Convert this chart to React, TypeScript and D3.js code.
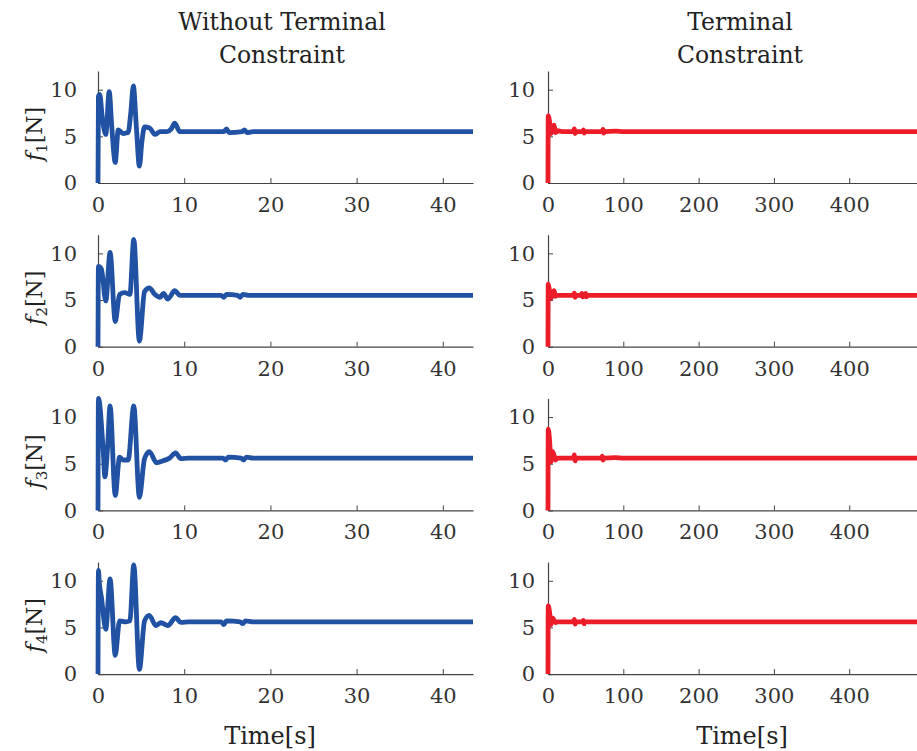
import React, { useEffect, useRef } from "react";
import * as d3 from "d3";

// left column: without terminal constraint (time in s, force in N)
const f1LeftT = [0, 0.05, 0.2, 0.5, 0.9, 1.3, 1.6, 2.0, 2.35, 2.9, 3.5, 3.8, 4.1, 4.45, 4.8, 5.1, 5.4, 6.0, 6.6, 7.2, 8.0, 8.5, 8.9, 9.5, 10.5, 14.6, 14.9, 15.2, 16.7, 17.0, 17.3, 18, 44];
const f1LeftV = [0, 9.3, 9.5, 7.0, 5.2, 9.8, 6.0, 2.2, 5.7, 5.3, 5.4, 7.5, 10.4, 6.0, 1.8, 4.5, 6.0, 5.9, 5.2, 5.5, 5.5, 5.8, 6.4, 5.5, 5.5, 5.5, 5.8, 5.4, 5.5, 5.7, 5.4, 5.5, 5.5];

const f2LeftT = [0, 0.05, 0.4, 0.9, 1.4, 2.0, 2.5, 3.1, 3.7, 4.15, 4.8, 5.4, 5.95, 6.6, 7.2, 7.6, 8.1, 8.9, 9.5, 10.5, 14.3, 14.6, 14.9, 16.2, 16.5, 16.8, 17.5, 44];
const f2LeftV = [0, 8.6, 8.3, 4.9, 10.1, 2.7, 5.6, 5.8, 5.6, 11.5, 0.6, 5.9, 6.3, 5.6, 5.3, 5.7, 5.1, 6.0, 5.5, 5.5, 5.5, 5.3, 5.6, 5.5, 5.3, 5.6, 5.5, 5.5];

const f3LeftT = [0, 0.05, 0.6, 0.8, 1.1, 1.4, 2.0, 2.5, 2.9, 3.5, 4.15, 4.8, 5.4, 5.95, 6.8, 7.5, 8.3, 9.0, 9.6, 10.5, 14.5, 14.8, 15.1, 16.6, 16.9, 17.2, 18, 44];
const f3LeftV = [0, 12.0, 6.45, 3.6, 6.6, 11.2, 1.6, 5.7, 5.4, 5.4, 11.2, 1.4, 5.55, 6.3, 5.1, 5.3, 5.6, 6.15, 5.55, 5.6, 5.6, 5.4, 5.7, 5.6, 5.4, 5.7, 5.6, 5.6];

const f4LeftT = [0, 0.05, 0.15, 0.4, 0.9, 1.4, 2.0, 2.5, 3.2, 3.7, 4.15, 4.8, 5.4, 5.95, 6.7, 7.3, 8.1, 9.0, 9.6, 10.5, 14.3, 14.6, 14.9, 16.5, 16.8, 17.1, 18, 44];
const f4LeftV = [0, 11.1, 9.8, 8.2, 4.8, 10.2, 2.0, 5.7, 5.6, 5.7, 11.7, 0.5, 5.7, 6.3, 5.2, 5.5, 5.2, 6.05, 5.55, 5.6, 5.6, 5.3, 5.7, 5.6, 5.4, 5.7, 5.6, 5.6];

// right column: terminal constraint
const f1RightT = [0, 0.3, 2, 4, 6, 8, 10, 13, 20, 34, 35, 36, 37, 46, 47, 48, 49, 72, 73, 74, 75, 90, 100, 490];
const f1RightV = [0, 7.2, 6.6, 5.3, 5.7, 6.2, 5.4, 5.6, 5.5, 5.5, 5.8, 5.3, 5.5, 5.5, 5.7, 5.35, 5.5, 5.5, 5.75, 5.35, 5.5, 5.55, 5.5, 5.5];

const f2RightT = [0, 0.3, 2, 4, 6, 8, 10, 13, 20, 34, 35, 36, 37, 44, 45, 46, 49, 50, 51, 52, 100, 490];
const f2RightV = [0, 6.7, 6.0, 5.2, 5.6, 6.0, 5.4, 5.5, 5.5, 5.5, 5.75, 5.3, 5.5, 5.5, 5.7, 5.35, 5.5, 5.7, 5.35, 5.5, 5.5, 5.5];

const f3RightT = [0, 0.3, 2, 4, 6, 8, 10, 13, 20, 34, 35, 36, 37, 71, 72, 73, 74, 90, 100, 490];
const f3RightV = [0, 8.7, 7.6, 5.2, 6.3, 5.9, 5.4, 5.6, 5.6, 5.6, 5.95, 5.3, 5.6, 5.6, 5.8, 5.4, 5.6, 5.65, 5.6, 5.6];

const f4RightT = [0, 0.3, 2, 4, 6, 8, 10, 13, 20, 34, 35, 36, 37, 46, 47, 48, 49, 100, 490];
const f4RightV = [0, 7.3, 6.7, 5.3, 6.0, 5.8, 5.5, 5.6, 5.6, 5.6, 5.85, 5.35, 5.6, 5.6, 5.75, 5.4, 5.6, 5.6, 5.6];

const leftTicks = [0, 10, 20, 30, 40];
const rightTicks = [0, 100, 200, 300, 400];
const yTicks = [0, 5, 10];
const rowLabels = ["1", "2", "3", "4"];
const titles = [["Without Terminal", "Constraint"], ["Terminal", "Constraint"]];

const leftSeries = [[f1LeftT, f1LeftV], [f2LeftT, f2LeftV], [f3LeftT, f3LeftV], [f4LeftT, f4LeftV]];
const rightSeries = [[f1RightT, f1RightV], [f2RightT, f2RightV], [f3RightT, f3RightV], [f4RightT, f4RightV]];

const W = 917;
const H = 751;
const FONT = "'DejaVu Serif', 'Liberation Serif', serif";
const BLUE = "#2051a2";
const RED = "#ec1c28";

export default function App() {
  const svgRef = useRef<SVGSVGElement>(null);

  useEffect(() => {
    document.body.style.margin = "0";
    const svg = d3.select(svgRef.current);
    svg.selectAll("*").remove();

    const cols = [
      { range: [98, 473], domain: [0, 43.5], ticks: leftTicks, series: leftSeries, color: BLUE, pad: 21, title: 282, xlab: 270 },
      { range: [548, 917], domain: [0, 490], ticks: rightTicks, series: rightSeries, color: RED, pad: 13, title: 740, xlab: 742 },
    ];
    const firstBottom = 183;
    const rowStep = 163.7;
    const plotH = 112;

    cols.forEach((c, ci) => {
      const x = d3.scaleLinear().domain(c.domain).range(c.range);

      titles[ci].forEach((t, i) => {
        svg.append("text")
          .attr("x", c.title)
          .attr("y", 30 + i * 33)
          .attr("text-anchor", "middle")
          .attr("font-family", FONT)
          .attr("font-size", 23.5)
          .attr("fill", "#222")
          .text(t);
      });

      for (let r = 0; r < 4; r++) {
        const bottom = firstBottom + r * rowStep;
        const y = d3.scaleLinear().domain([0, 12]).range([bottom, bottom - plotH]);
        const g = svg.append("g");

        const clipId = `clip-${ci}-${r}`;
        svg.append("clipPath").attr("id", clipId)
          .append("rect")
          .attr("x", c.range[0] - 6)
          .attr("y", bottom - plotH - 8)
          .attr("width", c.range[1] - c.range[0] + 6)
          .attr("height", plotH + 12);

        const xAxis = g.append("g")
          .attr("transform", `translate(0,${bottom})`)
          .call(d3.axisBottom(x).tickValues(c.ticks).tickSizeInner(-5).tickSizeOuter(0).tickPadding(14));
        const yAxis = g.append("g")
          .attr("transform", `translate(${c.range[0]},0)`)
          .call(d3.axisLeft(y).tickValues(yTicks).tickSizeInner(-5).tickSizeOuter(0).tickPadding(c.pad));

        [xAxis, yAxis].forEach(a => {
          a.attr("font-family", FONT).attr("font-size", 21);
          a.select(".domain").attr("stroke", "#444").attr("stroke-width", 1.2);
          a.selectAll(".tick line").attr("stroke", "#444");
          a.selectAll(".tick text").attr("fill", "#333");
        });

        const [ts, vs] = c.series[r];
        const line = d3.line<number>()
          .x((_, i) => x(ts[i]))
          .y(v => y(v))
          .curve(d3.curveMonotoneX);

        g.append("path")
          .attr("clip-path", `url(#${clipId})`)
          .attr("d", line(vs))
          .attr("fill", "none")
          .attr("stroke", c.color)
          .attr("stroke-width", 4.8)
          .attr("stroke-linejoin", "round");

        if (ci === 0) {
          const lab = svg.append("text")
            .attr("transform", `translate(42,${bottom - 49}) rotate(-90)`)
            .attr("text-anchor", "middle")
            .attr("font-family", FONT)
            .attr("font-size", 22)
            .attr("fill", "#222");
          lab.append("tspan").attr("font-style", "italic").text("f");
          lab.append("tspan").attr("font-size", 15).attr("dy", 5).text(rowLabels[r]);
          lab.append("tspan").attr("dy", -5).text("[N]");
        }
      }

      svg.append("text")
        .attr("x", c.xlab)
        .attr("y", 744)
        .attr("text-anchor", "middle")
        .attr("font-family", FONT)
        .attr("font-size", 24)
        .attr("fill", "#222")
        .text("Time[s]");
    });
  }, []);

  return <svg ref={svgRef} width={W} height={H} style={{ display: "block" }}></svg>;
}
